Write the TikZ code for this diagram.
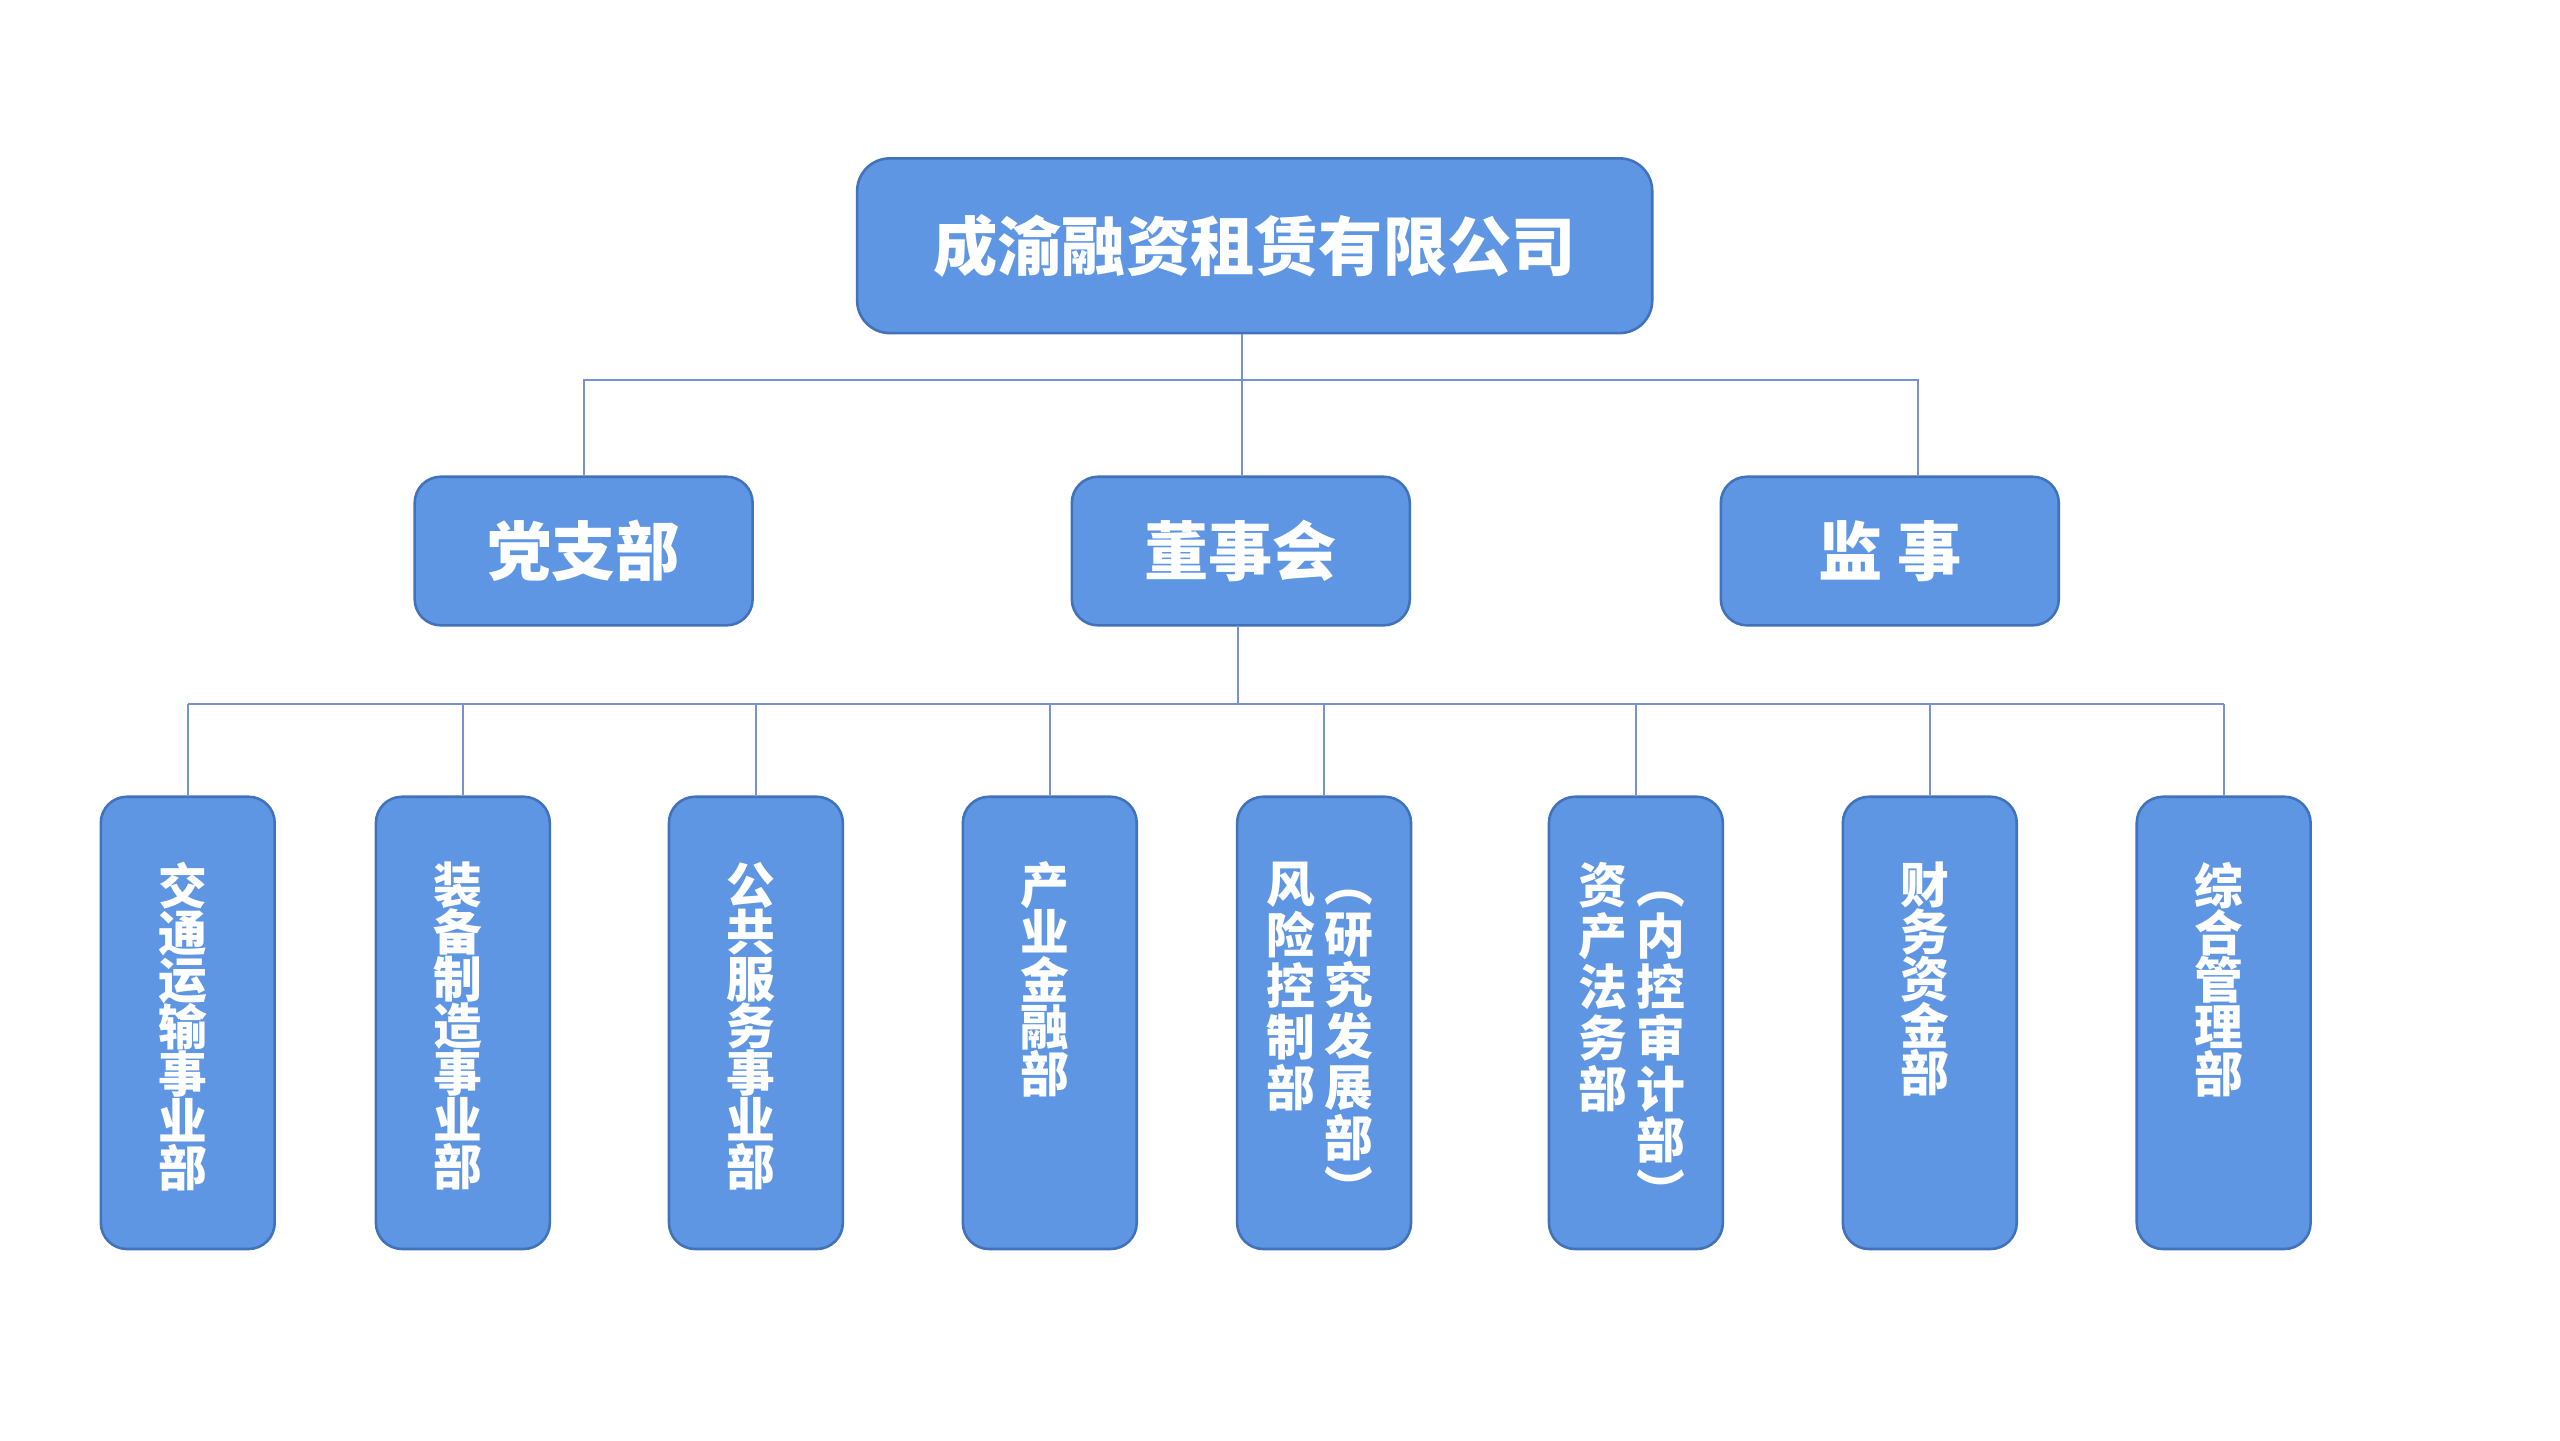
\documentclass[tikz,border=0pt]{standalone}
\usepackage{fontspec}
\usepackage{tikz}
\usetikzlibrary{positioning,calc}
\newfontfamily\cjk{Noto Sans CJK SC}
\definecolor{boxC}{RGB}{94,150,228}
\definecolor{edgeC}{RGB}{66,114,186}
\definecolor{lineC}{RGB}{118,146,210}
\newcommand\tightlines{\lineskiplimit-20pt\relax}

\begin{document}
\begin{tikzpicture}[
  x=0.1mm, y=-0.1mm,
  box/.style={draw=edgeC, fill=boxC, line width=0.45pt, inner sep=0pt, text=white},
  topbox/.style={box, rounded corners=2mm, minimum width=48.7mm, minimum height=10.7mm,
                 font=\cjk\bfseries\fontsize{11.2pt}{12pt}\selectfont},
  midbox/.style={box, rounded corners=1.6mm, minimum width=20.7mm, minimum height=9.1mm,
                 font=\cjk\bfseries\fontsize{11.2pt}{12pt}\selectfont},
  dept/.style={box, rounded corners=1.6mm, minimum width=10.65mm, minimum height=27.7mm},
  vtxt/.style={anchor=north, inner sep=0pt, text=white, align=center,
               font=\cjk\bfseries\fontsize{8.5pt}{8.2pt}\selectfont\tightlines},
  vtxtw/.style={vtxt, font=\cjk\bfseries\fontsize{8.5pt}{8.9pt}\selectfont\tightlines},
  link/.style={draw=lineC, line width=0.35pt},
]
\useasboundingbox (0,0) rectangle (1568,882);

% ============ helper coordinates ============
\def\yTop{150.5}  % company
\def\yMid{337.5}  % party / board / supervisor
\def\yDep{626.5}  % departments
\def\dTxt{40}     % gap from box top to first character

% ===================== top levels =====================
\node[topbox] (corp)  at (768.5,\yTop) {成渝融资租赁有限公司};
\node[midbox] (party) at (357.5,\yMid) {党支部};
\node[midbox] (board) at (760,\yMid)   {董事会};
\node[midbox] (super) at (1157.5,\yMid) {监 事};

\coordinate (busT) at (761,233);
\draw[link] (corp.south -| busT) -- (busT);
\draw[link] (party.north) |- (busT) -| ([xshift=1.75mm]super.north);
\draw[link] (busT) -- (board.north -| busT);

% ===================== departments =====================
\node[dept] (d1) at (115,\yDep) {};
\node[dept] (d2) at (283.5,\yDep) {};
\node[dept] (d3) at (463,\yDep) {};
\node[dept] (d4) at (643,\yDep) {};
\node[dept] (d5) at (811,\yDep) {};
\node[dept] (d6) at (1002,\yDep) {};
\node[dept] (d7) at (1182,\yDep) {};
\node[dept] (d8) at (1362,\yDep) {};

\node[vtxt] (t1) at ($(d1.north)+(-3,\dTxt)$) {交\\通\\运\\输\\事\\业\\部};
\node[vtxt] (t2) at ($(d2.north)+(-3,\dTxt)$) {装\\备\\制\\造\\事\\业\\部};
\node[vtxt] (t3) at ($(d3.north)+(-3,\dTxt)$) {公\\共\\服\\务\\事\\业\\部};
\node[vtxt] (t4) at ($(d4.north)+(-3,\dTxt)$) {产\\业\\金\\融\\部};
\node[vtxtw] (t5a) at ($(d5.north)+(-20.5,\dTxt)$) {风\\险\\控\\制\\部};
\node[vtxtw] (t5b) at ($(d5.north)+(15,\dTxt)$) {\vphantom{研}︵\\研\\究\\发\\展\\部\\︶};
\node[vtxtw] (t6a) at ($(d6.north)+(-20.5,\dTxt)$) {资\\产\\法\\务\\部};
\node[vtxtw] (t6b) at ($(d6.north)+(15,\dTxt)$) {\vphantom{内}︵\\内\\控\\审\\计\\部\\︶};
\node[vtxt] (t7) at ($(d7.north)+(-3,\dTxt)$) {财\\务\\资\\金\\部};
\node[vtxt] (t8) at ($(d8.north)+(-3,\dTxt)$) {综\\合\\管\\理\\部};

\coordinate (busB) at (758,431);
\draw[link] (board.south -| busB) -- (busB);
\draw[link] (d1.north |- busB) -- (d8.north |- busB);
\foreach \d in {d1,d2,d3,d4,d5,d6,d7,d8}{\draw[link] (\d.north |- busB) -- (\d.north);}

\end{tikzpicture}
\end{document}
